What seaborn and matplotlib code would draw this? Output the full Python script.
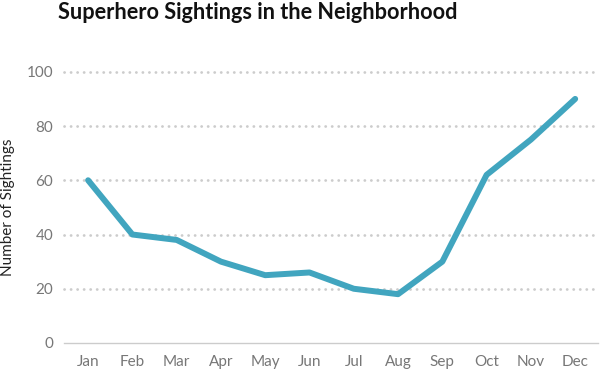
import matplotlib
matplotlib.use("Agg")
import matplotlib.pyplot as plt
import seaborn as sns
import pandas as pd

months = ["Jan", "Feb", "Mar", "Apr", "May", "Jun",
          "Jul", "Aug", "Sep", "Oct", "Nov", "Dec"]
sightings = [60, 40, 38, 30, 25, 26, 20, 18, 30, 62, 75, 90]
y_ticks = [0, 20, 40, 60, 80, 100]

df = pd.DataFrame({"month": months, "sightings": sightings})

sns.set_style("white")
plt.rcParams["font.family"] = ["Lato", "DejaVu Sans"]

fig = plt.figure(figsize=(6, 3.71), dpi=100)
ax = fig.add_axes([0.107, 0.0755, 0.89, 0.731])

sns.lineplot(data=df, x="month", y="sightings", ax=ax,
             color="#41a5bf", linewidth=4.3, solid_capstyle="round",
             solid_joinstyle="round")

ax.set_xlim(-0.54, 11.52)
ax.set_ylim(0, 100)
ax.set_yticks(y_ticks)
for v in y_ticks[1:]:
    ax.axhline(v, color="#cccccc", linewidth=2.0, linestyle=(0, (0.05, 2.3)),
               dash_capstyle="round", zorder=0, clip_on=False)

for side in ["top", "right", "left"]:
    ax.spines[side].set_visible(False)
ax.spines["bottom"].set_color("#cccccc")
ax.spines["bottom"].set_linewidth(1)

ax.tick_params(axis="x", length=5, width=1, color="#cccccc",
               labelcolor="#777777", labelsize=11, pad=4, direction="out")
ax.tick_params(axis="y", length=0, labelcolor="#777777", labelsize=11, pad=8)
ax.set_xlabel("")
ax.set_ylabel("Number of Sightings", fontsize=11, color="#222222", labelpad=8)

fig.text(0.097, 0.965, "Superhero Sightings in the Neighborhood",
         fontsize=15.6, fontweight="bold", color="#111111", va="center", ha="left")

fig.savefig("out.png", dpi=100)
